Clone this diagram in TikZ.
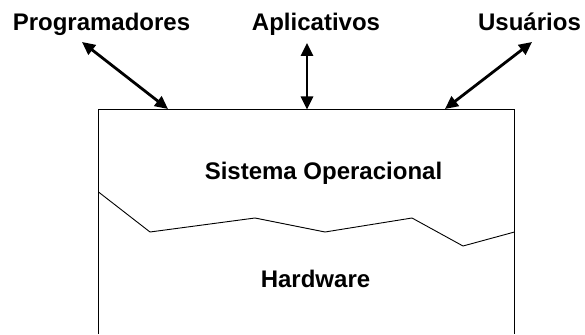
\documentclass[tikz,border=0pt]{standalone}
\usepackage{fontspec}
\setmainfont{Liberation Sans}
\usetikzlibrary{arrows.meta}
\begin{document}
\begin{tikzpicture}[x=1pt,y=-1pt,
  lbl/.style={font=\bfseries\fontsize{24}{28}\selectfont, anchor=base, inner sep=0pt},
  dbl/.style={line width=2.8pt, {Triangle[length=13pt,width=12pt]}-{Triangle[length=13pt,width=12pt]}},
  edge/.style={line width=0.9pt, line join=miter}]
\useasboundingbox (0,0) rectangle (585,334);
% labels
\node[lbl] (prog) at (101.5,31) {Programadores};
\node[lbl] (apl) at (316,31) {Aplicativos};
\node[lbl] (usu) at (529.5,31) {Usuários};
\node[lbl] (so) at (323.5,179) {Sistema Operacional};
\node[lbl] (hw) at (315.5,287) {Hardware};
% box
\coordinate (bl) at (98.5,334);
\coordinate (tl) at (98.5,109.5);
\coordinate (tr) at (514.5,109.5);
\coordinate (br) at (514.5,334);
\draw[edge] (bl) -- (tl) -- (tr) -- (br);
% arrows
\coordinate (progT) at (82,42);
\coordinate (progB) at (168,109);
\coordinate (aplT) at (307,43);
\coordinate (aplB) at (307,109.5);
\coordinate (usuT) at (532,42);
\coordinate (usuB) at (445,109);
\draw[dbl] (progT) -- (progB);
\draw[dbl] (aplT) -- (aplB);
\draw[dbl] (usuT) -- (usuB);
% jagged boundary
\coordinate (j0) at (98.5,192);
\coordinate (j1) at (150,232);
\coordinate (j2) at (255,218);
\coordinate (j3) at (325,232);
\coordinate (j4) at (412,218);
\coordinate (j5) at (463,246);
\coordinate (j6) at (514.5,232);
\draw[edge] (j0) -- (j1) -- (j2) -- (j3) -- (j4) -- (j5) -- (j6);
\end{tikzpicture}
\end{document}
